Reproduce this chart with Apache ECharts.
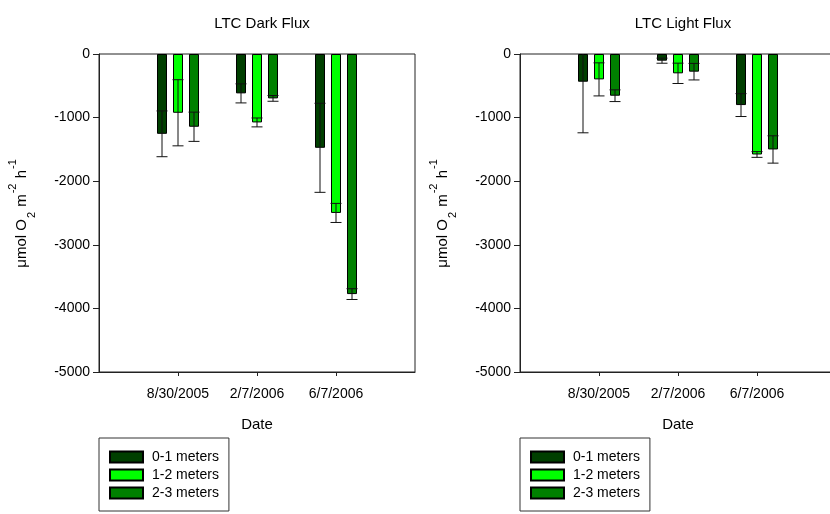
<!DOCTYPE html>
<html>
<head>
<meta charset="utf-8">
<script src="https://cdn.jsdelivr.net/npm/echarts@6/dist/echarts.min.js"></script>
<style>html,body{margin:0;padding:0;background:#fff}#c{width:830px;height:514px}</style>
</head>
<body>
<div id="c"></div>
<script>
// categories (blank slots at ends to leave space either side)
const categories = ['', '8/30/2005', '2/7/2006', '6/7/2006', ''];
const seriesNames = ['0-1 meters', '1-2 meters', '2-3 meters'];
const yTicks = [0, -1000, -2000, -3000, -4000, -5000];

// LTC Dark Flux means and error
const dark01 = [-1255, -619, -1475];
const dark12 = [-924, -1076, -2499];
const dark23 = [-1144, -698, -3775];
const dark01Err = [360, 150, 700];
const dark12Err = [520, 70, 150];
const dark23Err = [230, 45, 85];

// LTC Light Flux means and error
const light01 = [-436, -105, -803];
const light12 = [-399, -304, -1580];
const light23 = [-656, -278, -1501];
const light01Err = [803, 40, 180];
const light12Err = [260, 160, 45];
const light23Err = [92, 130, 215];

const colors = ['#003f00', '#00ff00', '#008000'];
const FONT = 'Liberation Sans, Arial, sans-serif';
const BAR_W = 10;
const OFFSETS = [-16, 0, 16];

function pad(arr) { return [null].concat(arr).concat([null]); }
function errData(means, errs) { return means.map((m, i) => [i + 1, m, errs[i]]); }

const chart = echarts.init(document.getElementById('c'));

function grid(left) {
  return { left: left, top: 54, width: 316, height: 318, show: true, borderColor: '#222', borderWidth: 1,
           containLabel: false, outerBoundsMode: 'none' };
}

function xAxis(idx) {
  return {
    type: 'category', gridIndex: idx, data: categories, boundaryGap: false,
    axisLine: { onZero: false, lineStyle: { color: '#222', width: 1 } },
    axisTick: { length: 4, inside: false, interval: function (i) { return i > 0 && i < 4; }, lineStyle: { color: '#222' } },
    axisLabel: { interval: 0, color: '#000', fontSize: 14, fontFamily: FONT, margin: 15 },
    name: 'Date', nameLocation: 'middle', nameGap: 45,
    nameTextStyle: { color: '#000', fontSize: 15, fontFamily: FONT },
    splitLine: { show: false }
  };
}

function yAxis(idx) {
  return {
    type: 'value', gridIndex: idx, min: yTicks[yTicks.length - 1], max: yTicks[0], interval: 1000,
    axisLine: { show: true, lineStyle: { color: '#222', width: 1 } },
    axisTick: { show: true, length: 6, lineStyle: { color: '#222' } },
    axisLabel: { color: '#000', fontSize: 14, fontFamily: FONT, margin: 9, formatter: function (v) { return String(v); } },
    splitLine: { show: false },
    name: '{a|μmol O}{sub|2}{a| m}{sup|-2}{a| h}{sup|-1}',
    nameLocation: 'middle', nameGap: 66,
    nameTextStyle: {
      color: '#000', fontFamily: FONT, fontSize: 15,
      rich: {
        a: { fontSize: 15, fontFamily: FONT, color: '#000', lineHeight: 22, verticalAlign: 'middle' },
        sub: { fontSize: 11, fontFamily: FONT, color: '#000', lineHeight: 22, verticalAlign: 'bottom', padding: [0, 1, -4, 1] },
        sup: { fontSize: 11, fontFamily: FONT, color: '#000', lineHeight: 22, verticalAlign: 'top', padding: [-4, 1, 0, 1] }
      }
    }
  };
}

function barSeries(name, data, k, idx) {
  return {
    type: 'bar', name: name, xAxisIndex: idx, yAxisIndex: idx,
    data: pad(data), barWidth: BAR_W, barGap: '60%',
    itemStyle: { color: colors[k], borderColor: '#000', borderWidth: 1 },
    z: 2
  };
}

function errSeries(name, means, errs, k, idx) {
  return {
    type: 'custom', name: name, xAxisIndex: idx, yAxisIndex: idx,
    data: errData(means, errs), clip: true, z: 5,
    encode: { x: 0, y: 1 },
    renderItem: function (params, api) {
      const ci = api.value(0), m = api.value(1), e = api.value(2);
      const x = api.coord([ci, m])[0] + OFFSETS[k];
      const yLo = api.coord([ci, m - e])[1];
      const yHi = api.coord([ci, m + e])[1];
      const hw = 5.5;
      const st = { stroke: '#111', lineWidth: 1 };
      return {
        type: 'group',
        children: [
          { type: 'line', shape: { x1: x, y1: yLo, x2: x, y2: yHi }, style: st },
          { type: 'line', shape: { x1: x - hw, y1: yLo, x2: x + hw, y2: yLo }, style: st },
          { type: 'line', shape: { x1: x - hw, y1: yHi, x2: x + hw, y2: yHi }, style: st }
        ]
      };
    }
  };
}

function legend(left) {
  return {
    data: seriesNames, orient: 'vertical', left: left, top: 438,
    itemWidth: 33, itemHeight: 11, itemGap: 4,
    borderColor: '#333', borderWidth: 1, padding: [12, 10, 11, 10],
    textStyle: { color: '#000', fontSize: 14, fontFamily: FONT, padding: [0, 0, 0, 4] },
    icon: 'rect', selectedMode: false
  };
}

const option = {
  animation: false,
  backgroundColor: '#fff',
  title: [
    { text: 'LTC Dark Flux', left: 257, top: 11, textAlign: 'center', textStyle: { fontSize: 15, fontWeight: 'normal', color: '#000', fontFamily: FONT } },
    { text: 'LTC Light Flux', left: 678, top: 11, textAlign: 'center', textStyle: { fontSize: 15, fontWeight: 'normal', color: '#000', fontFamily: FONT } }
  ],
  grid: [grid(99), grid(520)],
  xAxis: [xAxis(0), xAxis(1)],
  yAxis: [yAxis(0), yAxis(1)],
  legend: [legend(99), legend(520)],
  series: [
    barSeries(seriesNames[0], dark01, 0, 0),
    barSeries(seriesNames[1], dark12, 1, 0),
    barSeries(seriesNames[2], dark23, 2, 0),
    barSeries(seriesNames[0], light01, 0, 1),
    barSeries(seriesNames[1], light12, 1, 1),
    barSeries(seriesNames[2], light23, 2, 1),
    errSeries(seriesNames[0], dark01, dark01Err, 0, 0),
    errSeries(seriesNames[1], dark12, dark12Err, 1, 0),
    errSeries(seriesNames[2], dark23, dark23Err, 2, 0),
    errSeries(seriesNames[0], light01, light01Err, 0, 1),
    errSeries(seriesNames[1], light12, light12Err, 1, 1),
    errSeries(seriesNames[2], light23, light23Err, 2, 1)
  ]
};
chart.setOption(option);
</script>
</body>
</html>
